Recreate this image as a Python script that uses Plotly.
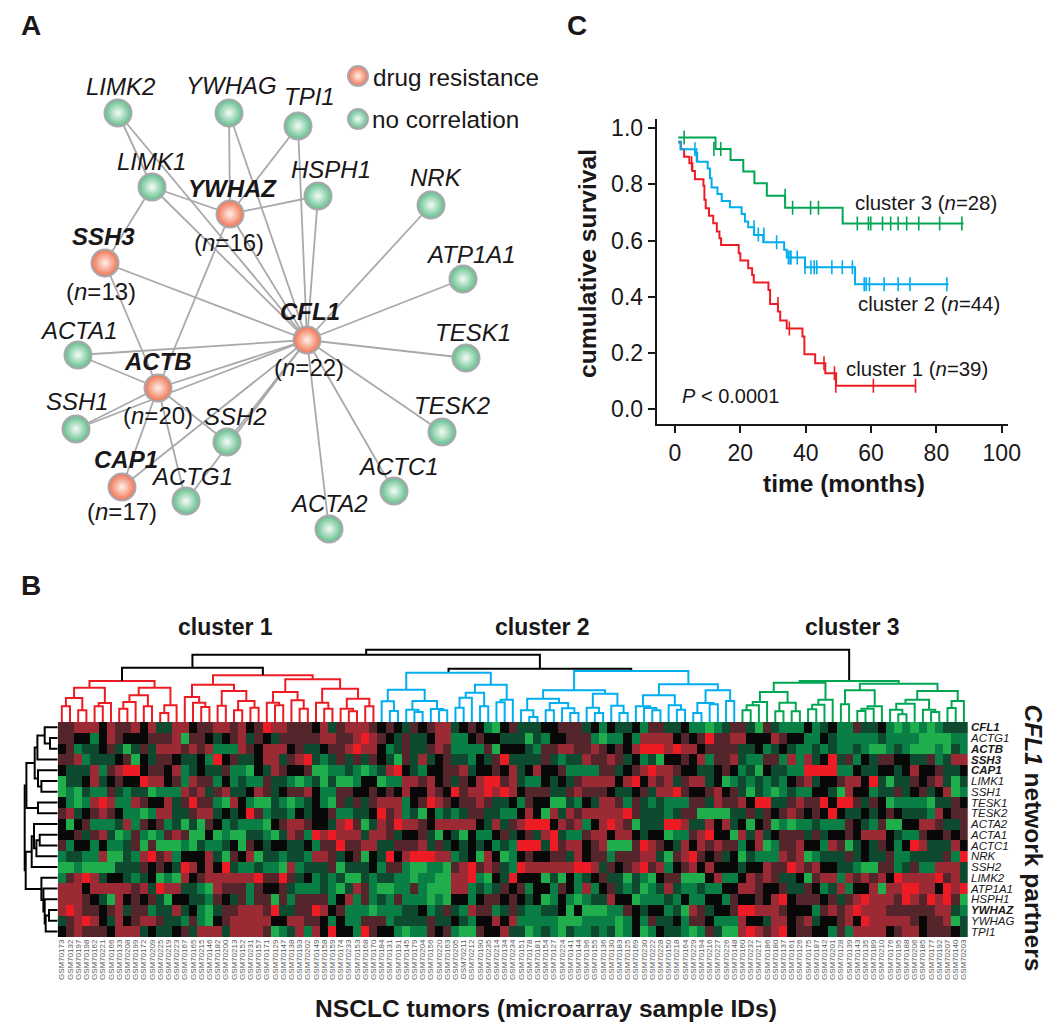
import plotly.graph_objects as go

W, H = 1050, 1029
FONT = "Liberation Sans, Arial, sans-serif"
INK = "#1a1718"
RED, BLUE, GREEN = "#ed1c24", "#00aeef", "#00a651"

# ---------- panel A: network ----------
genes = ["LIMK2", "YWHAG", "TPI1", "LIMK1", "YWHAZ", "HSPH1", "NRK", "SSH3", "ATP1A1", "CFL1",
         "ACTA1", "TESK1", "ACTB", "SSH1", "SSH2", "TESK2", "CAP1", "ACTG1", "ACTC1", "ACTA2"]
node_x = [118, 229, 298, 152, 230, 318, 431, 105, 463, 307, 78, 466, 158, 76, 227, 442, 122, 186, 394, 329]
node_y = [113, 113, 126, 187, 214, 196, 205, 263, 279, 340, 355, 358, 388, 429, 442, 432, 487, 501, 491, 529]
label_x = [120, 231, 309, 151, 232, 331, 436, 103, 471, 310, 79, 473, 158, 77, 235, 452, 126, 192, 398, 329]
label_y = [86, 85, 96, 161, 188, 169, 177, 236, 254, 311, 330, 332, 361, 401, 416, 405, 459, 476, 466, 503]
resistance = ["YWHAZ", "SSH3", "CFL1", "ACTB", "CAP1"]
n_labels = {"YWHAZ": ("(<i>n</i>=16)", 229, 242), "SSH3": ("(<i>n</i>=13)", 101, 291),
            "CFL1": ("(<i>n</i>=22)", 309, 367), "ACTB": ("(<i>n</i>=20)", 158, 415),
            "CAP1": ("(<i>n</i>=17)", 122, 511)}
edges = [("CFL1", g) for g in ["LIMK2", "YWHAG", "TPI1", "LIMK1", "YWHAZ", "HSPH1", "NRK", "SSH3", "ATP1A1",
                               "ACTA1", "TESK1", "ACTB", "SSH1", "SSH2", "TESK2", "CAP1", "ACTG1", "ACTC1", "ACTA2"]]
edges += [("YWHAZ", "YWHAG"), ("YWHAZ", "TPI1"), ("YWHAZ", "LIMK1"), ("YWHAZ", "HSPH1"), ("YWHAZ", "ACTB"),
          ("LIMK1", "LIMK2"), ("LIMK1", "SSH3"), ("SSH3", "ACTB"), ("ACTA1", "ACTB"), ("ACTB", "SSH1"),
          ("ACTB", "SSH2"), ("ACTB", "CAP1"), ("ACTB", "ACTG1")]

# ---------- panel C: survival ----------
c1_t = [1.0, 1.8, 2.8, 4.4, 5.3, 6.1, 8.7, 9.0, 9.4, 10.4, 11.7, 12.8, 13.6, 14.1, 19.5, 20.0, 22.4, 23.6, 24.1,
        28.6, 29.1, 31.5, 32.2, 34.2, 39.0, 39.6, 42.9, 46.0, 49.3, 73.7]
c1_s = [.949, .925, .899, .875, .848, .818, .795, .745, .715, .688, .662, .632, .608, .584, .555, .529, .501, .477,
        .451, .424, .374, .347, .315, .287, .258, .195, .163, .127, .083, .083]
c1_cens_t = [5.1, 31.5, 35.0, 45.6, 48.8, 49.2, 60.7, 73.6]
c1_cens_s = [.875, .374, .287, .163, .127, .083, .083, .083]
c2_t = [1.0, 1.7, 6.1, 6.8, 10.0, 10.7, 11.2, 13.0, 14.3, 16.8, 20.4, 21.4, 22.4, 24.2, 27.0, 33.4, 34.2, 39.8, 55.1, 83.7]
c2_s = [.953, .925, .911, .881, .857, .822, .789, .766, .741, .719, .695, .668, .647, .620, .594, .567, .540, .505, .444, .444]
c2_cens_t = [6.1, 6.6, 24.2, 25.5, 27.2, 31.1, 34.7, 35.2, 35.5, 37.4, 39.8, 41.6, 42.6, 43.4, 48.0, 51.2, 54.3,
             57.9, 58.5, 59.5, 64.0, 68.3, 71.9, 83.2]
c2_cens_s = [.925, .905, .647, .622, .622, .594, .540, .540, .540, .540, .505, .505, .505, .505, .505, .505, .505,
             .444, .444, .444, .444, .444, .444, .444]
c3_t = [1.0, 12.4, 17.0, 20.9, 24.3, 28.1, 33.7, 51.3, 88.3]
c3_s = [.967, .926, .887, .846, .804, .760, .717, .661, .661]
c3_cens_t = [2.8, 11.9, 14.0, 33.7, 36.0, 41.5, 43.9, 55.8, 59.2, 59.9, 63.5, 66.0, 68.3, 70.9, 74.6, 81.0, 87.8]
c3_cens_s = [.967, .926, .926, .760, .717, .717, .717, .661, .661, .661, .661, .661, .661, .661, .661, .661, .661]

# ---------- panel B: heat map ----------
row_names = ["CFL1", "ACTG1", "ACTB", "SSH3", "CAP1", "LIMK1", "SSH1", "TESK1", "TESK2", "ACTA2", "ACTA1", "ACTC1",
             "NRK", "SSH2", "LIMK2", "ATP1A1", "HSPH1", "YWHAZ", "YWHAG", "TPI1"]
bold_rows = ["CFL1", "ACTB", "SSH3", "CAP1", "YWHAZ"]
sample_ids = [173, 132, 197, 198, 162, 221, 166, 133, 208, 199, 172, 209, 225, 219, 223, 167, 165, 215, 146, 182,
              200, 213, 152, 231, 157, 171, 129, 147, 138, 193, 202, 149, 158, 159, 174, 233, 153, 168, 170, 184,
              131, 191, 145, 179, 204, 156, 220, 163, 205, 211, 212, 190, 235, 214, 134, 234, 151, 178, 181, 154,
              127, 224, 141, 144, 196, 155, 136, 130, 183, 125, 169, 230, 222, 228, 150, 218, 164, 229, 194, 216,
              227, 226, 148, 160, 232, 217, 186, 180, 137, 161, 126, 175, 187, 142, 201, 128, 139, 143, 135, 189,
              210, 176, 195, 188, 206, 185, 177, 192, 207, 140, 203]
# R bright red, r red, d dark red, . black, e dark green, g green, G bright green
level = {"R": 3, "r": 2, "d": 1, ".": 0, "e": -1, "g": -2, "G": -3}
heat_rows = [
    "ddrrr.rddr .reerr.ddr rdr.dRrrdd d.redrrr" "d.d.ed.drr e.d.gG.dee e..ddde.g. ee.gddee.g gGge" "ddeGdeggg. ge.ggdee.g GgGgGgeee",
    "dd..g.rd.. .dddrGdd.e .dred.eddd ddrrddrR" "rd.edee.rr gg.d..eeeG eg..dddgGg g.grrrr.d. dRdd" "rr...rd..g g.egggggeg gggGGGGgg",
    ".dgee.deGe derrrdrdrg ggrd.rrr.d ee.ddrRr" "r.gedeedrd ggggdG...e gddrrddrd. d.rRRRrRrr .ddd" "dee.ge.egg egeggegGGg egGGGgGeg",
    "ddrgeee.dG .edd.ee.gR .dee.rredr Regedede" "d.eGdere.d eeg.edReee edegeerddr de.geG..d. rgdd" "reggddgrgr e.Redg.edd ..eedgerr",
    ".eeergdrRR .dd.rge.ee dggG.erd.. dGGggegG" "gerR.eg..d dre..d.re. r..dggggdd e.drRrrd.. ee.d" ".geG.eeggR RRRgg.ee.. e.r..dee.",
    "Gee.re.d.. Rrr.dgrddg .geggdeegG geGeGGg." ".Gggrrdr.d ed.rRRdreg g.e.edrrrr .rR.rdredr re.G" "gegegeg.dr e..drr.ReG eed.dreGe",
    "GgGeggdege eGgggrdred ree.rde.dd r.ggdd.." "d.d.r..rd. RdrrRrRr.d ddeedrddd. ee.derrRd. .dr." "deGegGgegg ..eGr..gee de.de.rGg",
    ".gGgrRrggr d..redRddg Gr.gGGegGg e.gGdede" "drrrg.dRrd .ddrdee.gd ..GGeg.err dgdegegggd derd" "dr.RReedrd dR.RRded.G ggggGeed.",
    "dre.drd.gg Ggrreedrre .e.Rdgeeg. e..dggee" ".RdrgeG.ge geddeegg.r .Grerdrrrr rRdeeegedd GGGG" "eeded.drd. d.R.ee.e.d .eeegr.dd",
    ".G.dgggerg d.dgeGeGd. gegggG.drr d..erRdG" "erdRrrd.rr rrr.eredrR RR.rdrg.rR rdGeeeRRre er.r" "e.G.dGgGgg egggd.egdG G..rrdeed",
    "..dedreGgd gGgdrdGG.G gGGeegGerd gRrRrrre" "rrde..deG. eG.gg.de.d erReggdrr. rr.e..Gggd rR.." "Grere.ddde de..d.rrr. eggd..d.d",
    "dg..g.gged GdGGGgGegg e.Gd.e..ee .gddRddr" "reedddrede .e.e.gegRR ReRdrr.drG GGdRrd.er. rdrd" "dg.rGgddr. .grdGe.ed. g.Rreeer.",
    "geeggrGGeg rRdrg...re Gd.rGeegee grrde.dG" ".eR.rRRRrr ge.Gr.Gg.d ..dder.ddg dddrreGdrR d.de" ".GegggrdrG geeede.eed ggeeeedgR",
    "GGgGGGGeee d.d.eRr.r. ReggeggGrg eeedGeee" ".gddgGGggG drRdrdegRr rrrrrRRred .drRdrg.dr .r.." ".e..rddRrd r..eegGGdd gedggrrre",
    "gdrRre..eg e.GgGr.drr rrrrRddRde .gegeGGe" "geeggGggGG rrRgG.eR.. .GeG.ge.de eGegG.ddGG G.rg" "g.rdrdee.G drrgrdrdr. RrrrrRdre",
    "rrr.rrrrrd reRrreegGr dddgd..deg ggegGerd" "gGGggdgGGG rrgeged.dg ..gd.grg.d egeGgeregg egg." ".rrd..deed .gerg..rGr rRRrr.RrR",
    "rrrd.eGr.d .deG..eegd .edgddGdgd dddg.rgd" "gegdgggGgG ..g.dd.d.e .Gg.gGgeer ..Ggggeg.g g..g" "d..d.rR.dd d.dedrRrrr dRrdRrRdG",
    "rRrdd.dred dgeere.gGe ddrrrdReed dRr.dggg" "Ggggee.ged egrddgedeg gee.G.GGGg gd.e..geGr de.." "dRRrrrd... gdrdrRrrrd dddddrreg",
    "edrRr.er.d rrdeegdgG. drrrrr..rr dd.g.ggd" "ddgeeeedee .eg..r.rgg gggGGGgggg Gg.gdee.gd d.gg" "gr..err.dr e..dr.Rrrr rrd.ddrGe",
    ".drddd.rrr e.ee.derrr errrrdGger gr.R..gR" "d..gGggd.d gGGd..reeG gegGeggege Gg.Gg.eegG gdeG" "GrRrdrR.dd ..gdgrrrr. drr.ddd.e",
]

# dendrograms: [merge height, left, right]; integers are leaves
A = [41, [34.3, [24, [15.7, 0, 1], [11.7, 2, 3]], [19, [15.7, 4, 5], 6]],
     [34.3, [26.7, [20, [13.3, 7, 8], 9], [15.7, 10, 11]], [16.7, [9, 12, 13], 14]]]
B = [46.7, [37.3, [25, 15, [19.3, 16, [15, 17, 18]]], [31, [16.3, 19, 20], [21, [11.7, 21, 22], [14.3, 23, 24]]]],
     [42.7, [30, [19.3, 25, [16.7, 26, 27]], [21.7, 28, [13.3, 29, 30]]],
      [33.3, [19.3, 31, [13.3, 32, 33]], [23.3, [13.3, 34, [10.7, 35, 36]], [15.7, 37, 38]]]]]
C = [49.3, [32.3, [20.7, 39, [11, 40, 41]], [21, [12.3, 42, [10, 43, 44]], [13, 45, [11.7, 46, 47]]]],
     [37.3, [29.3, [24.3, [14.3, 48, 49], 50], [15.7, 51, 52]], [22.3, [19.7, 53, 54], 55]]]
D = [51, [31.7, [23.3, [11.7, 56, [5, 57, 58]], [19, [11.7, 59, 60], [13.7, 61, [9, 62, 63]]]],
          [28.3, [14.3, 64, [9, 65, 66]], [16.3, 67, [9, 68, 69]]]],
     [37.7, [26.7, [15.7, 70, [14, 71, [11.7, 72, 73]]], [16.7, 74, [12.3, 75, 76]]],
      [31.7, [19, [9, 77, 78], [17.7, 79, 80]], [21, 81, 82]]]]
E = [41, [39.3, [30, [20, [16.7, [11.7, 83, 84], 85], 86], [19.3, [10.7, 87, 88], [10.7, 89, 90]]],
          [22.3, [17.3, [12.7, 91, 92], 93], 94]],
     [38.3, [31.7, [17.7, 95, 96], [15.7, [13.3, [11, 97, 98], 99], 100]],
      [31, [22.3, [18.3, [12.3, 101, [7.7, 102, 103]], 104], [12.3, 105, [10, 106, 107]]], [21, [14, 108, 109], 110]]]]
column_tree = [72.3, [67.3, [54.3, A, B], [53.3, C, D]], E]
upper_rows = [31.3, [23, [20.3, [13, 0, [7.7, 1, 2]], 3], [19.7, 4, [16.3, 5, 6]]], [19.7, 7, 8]]
middle_rows = [26, [23.7, 9, [21.3, [18, 10, 11], 12]], 13]
lower_rows = [16.3, 14, [14.3, 15, [13, 16, [12, [8.7, 17, 18], 19]]]]
row_tree = [33, upper_rows, [32, middle_rows, lower_rows]]


# ---------- helpers ----------
def px(x):
    return x / W


def py(y):
    return 1 - y / H


def tree_segments(tree, tint):
    segs = {}

    def walk(n, col):
        if isinstance(n, int):
            return n, 0
        col = tint.get(id(n), col)
        h, l, r = n
        xl, hl = walk(l, col)
        xr, hr = walk(r, col)
        xs, ys = segs.setdefault(col, ([], []))
        xs += [xl, xl, xr, xr, None]
        ys += [hl, h, h, hr, None]
        return (xl + xr) / 2, h

    walk(tree, "#000000")
    return segs


fig = go.Figure()

# network edges
ex, ey = [], []
for a, b in edges:
    ia, ib = genes.index(a), genes.index(b)
    ex += [node_x[ia], node_x[ib], None]
    ey += [node_y[ia], node_y[ib], None]
fig.add_trace(go.Scatter(x=ex, y=ey, mode="lines", line=dict(color="#a9a9ad", width=1.8), hoverinfo="skip",
                         xaxis="x", yaxis="y"))


def bubble(xs, ys, size, edge, centre):
    # plotly paints marker.color at the rim and gradient.color in the middle
    fig.add_trace(go.Scatter(x=xs, y=ys, mode="markers", hoverinfo="skip", xaxis="x", yaxis="y",
                             marker=dict(size=size, color=edge, gradient=dict(type="radial", color=centre),
                                         line=dict(color="#a9a9ad", width=2))))


ORANGE_E, ORANGE_C = "#f0714f", "#fff0ea"
GREEN_E, GREEN_C = "#5fbd88", "#f4fbf7"
normal = [i for i, g in enumerate(genes) if g not in resistance]
hubs = [i for i, g in enumerate(genes) if g in resistance]
bubble([node_x[i] for i in normal], [node_y[i] for i in normal], 27, GREEN_E, GREEN_C)
bubble([node_x[i] for i in hubs], [node_y[i] for i in hubs], 27, ORANGE_E, ORANGE_C)
bubble([358], [76], 20, ORANGE_E, ORANGE_C)
bubble([358], [119], 20, GREEN_E, GREEN_C)

# survival curves
for t, s, ct, cs, col in [(c1_t, c1_s, c1_cens_t, c1_cens_s, RED), (c2_t, c2_s, c2_cens_t, c2_cens_s, BLUE),
                          (c3_t, c3_s, c3_cens_t, c3_cens_s, GREEN)]:
    fig.add_trace(go.Scatter(x=t, y=s, mode="lines", line=dict(color=col, width=2, shape="hv"), hoverinfo="skip",
                             xaxis="x2", yaxis="y2"))
    fig.add_trace(go.Scatter(x=ct, y=cs, mode="markers", hoverinfo="skip", xaxis="x2", yaxis="y2",
                             marker=dict(symbol="line-ns", size=10, color=col, line=dict(color=col, width=1.6))))

# heat map
z = []
for row in heat_rows:
    cells = row.replace(" ", "")
    if len(cells) != 111:
        raise ValueError(f"row has {len(cells)} cells: {row}")
    z.append([level[c] for c in cells])
colors = ["#1fae4b", "#0a7f45", "#0d4a30", "#080808", "#54252b", "#9c2a35", "#ed1c24"]
fig.add_trace(go.Heatmap(z=z, x=list(range(111)), y=list(range(20)), zmin=-3, zmax=3, showscale=False,
                         colorscale=[[i / 6, c] for i, c in enumerate(colors)], hoverinfo="skip",
                         xaxis="x3", yaxis="y3"))

# dendrograms
tint = {id(A): RED, id(B): RED, id(C): BLUE, id(D): BLUE, id(E): GREEN}
for col, (xs, ys) in tree_segments(column_tree, tint).items():
    fig.add_trace(go.Scatter(x=xs, y=ys, mode="lines", line=dict(color=col, width=2), hoverinfo="skip",
                             xaxis="x4", yaxis="y4", connectgaps=False))
for col, (ys, xs) in tree_segments(row_tree, {}).items():
    fig.add_trace(go.Scatter(x=xs, y=ys, mode="lines", line=dict(color=col, width=2), hoverinfo="skip",
                             xaxis="x5", yaxis="y5", connectgaps=False))

# texts
ann = []


def note(text, x, y, size, anchor="center", angle=0, xref="paper", yref="paper"):
    ann.append(dict(text=text, x=x, y=y, xref=xref, yref=yref, showarrow=False, xanchor=anchor, yanchor="middle",
                    textangle=angle, font=dict(family=FONT, size=size, color=INK)))


for g, lx, ly in zip(genes, label_x, label_y):
    t = f"<b><i>{g}</i></b>" if g in resistance else f"<i>{g}</i>"
    note(t, lx, ly, 24, xref="x", yref="y")
for g, (t, lx, ly) in n_labels.items():
    note(t, lx, ly, 24, xref="x", yref="y")
note("drug resistance", 370.5, 77, 24.3, "left", xref="x", yref="y")
note("no correlation", 370, 119, 24.3, "left", xref="x", yref="y")

for letter, x, y in [("A", 31, 26), ("B", 31, 585), ("C", 577, 26)]:
    note(f"<b>{letter}</b>", px(x), py(y), 28)

note("<b>cumulative survival</b>", px(587), py(264), 24.7, angle=-90)
note("<b>time (months)</b>", px(843.5), py(483), 24.5)
note("cluster 3 (<i>n</i>=28)", px(853), py(203), 20.4, "left")
note("cluster 2 (<i>n</i>=44)", px(855.5), py(304), 20.4, "left")
note("cluster 1 (<i>n</i>=39)", px(843.5), py(369), 20.4, "left")
note("<i>P</i> &lt; 0.0001", px(680), py(396), 20, "left")

note("<b>cluster 1</b>", px(225), py(627), 23)
note("<b>cluster 2</b>", px(542), py(627), 23)
note("<b>cluster 3</b>", px(852), py(627), 23)
note("<b>NSCLC tumors (microarray sample IDs)</b>", px(545.5), py(1008), 24.6)
note("<b><i>CFL1</i> network partners</b>", px(1033), py(837.5), 24.5, angle=90)

hidden = dict(visible=False, showgrid=False, zeroline=False, automargin=False)
surv_axis = dict(showline=True, linewidth=2, linecolor=INK, ticks="outside", ticklen=7, tickwidth=2, tickcolor=INK,
                 showgrid=False, zeroline=False, automargin=False, tickfont=dict(family=FONT, size=23, color=INK))

fig.update_layout(
    width=W, height=H, autosize=False, margin=dict(l=0, r=0, t=0, b=0, pad=0), showlegend=False,
    paper_bgcolor="white", plot_bgcolor="white", annotations=ann,
    xaxis=dict(domain=[0, px(560)], range=[0, 560], **hidden),
    yaxis=dict(domain=[py(560), 1], range=[560, 0], **hidden),
    xaxis2=dict(domain=[px(656.7), px(1008.3)], range=[-5.6, 102], anchor="y2", tickvals=[0, 20, 40, 60, 80, 100],
                **surv_axis),
    yaxis2=dict(domain=[py(424), py(119.3)], range=[-0.0535, 1.032], anchor="x2",
                tickvals=[0, .2, .4, .6, .8, 1], tickformat=".1f", **surv_axis),
    xaxis3=dict(domain=[px(57.7), px(968)], range=[-0.5, 110.5], anchor="y3", side="bottom", showgrid=False,
                zeroline=False, automargin=False, ticks="", tickangle=-90, tickmode="array", tickvals=list(range(111)),
                ticktext=[f"GSM70{s}" for s in sample_ids], tickfont=dict(family=FONT, size=8, color="#58595b")),
    yaxis3=dict(domain=[py(937), py(722)], range=[19.5, -0.5], anchor="x3", side="right", showgrid=False,
                zeroline=False, automargin=False, ticks="", tickmode="array", tickvals=list(range(20)),
                ticklabelstandoff=2, ticktext=[f"<b><i>{r}</i></b>" if r in bold_rows else f"<i>{r}</i>" for r in row_names],
                tickfont=dict(family=FONT, size=11.5, color=INK)),
    xaxis4=dict(domain=[px(57.7), px(968)], range=[-0.5, 110.5], anchor="y4", **hidden),
    yaxis4=dict(domain=[py(722), py(645)], range=[0, 77], anchor="x4", **hidden),
    xaxis5=dict(domain=[px(20), px(57.7)], range=[37.7, 0], anchor="y5", **hidden),
    yaxis5=dict(domain=[py(937), py(722)], range=[19.5, -0.5], anchor="x5", **hidden),
)

fig.write_html("out.html", config={"displayModeBar": False},
               post_script="document.body.style.margin='0';document.body.style.overflow='hidden';")
